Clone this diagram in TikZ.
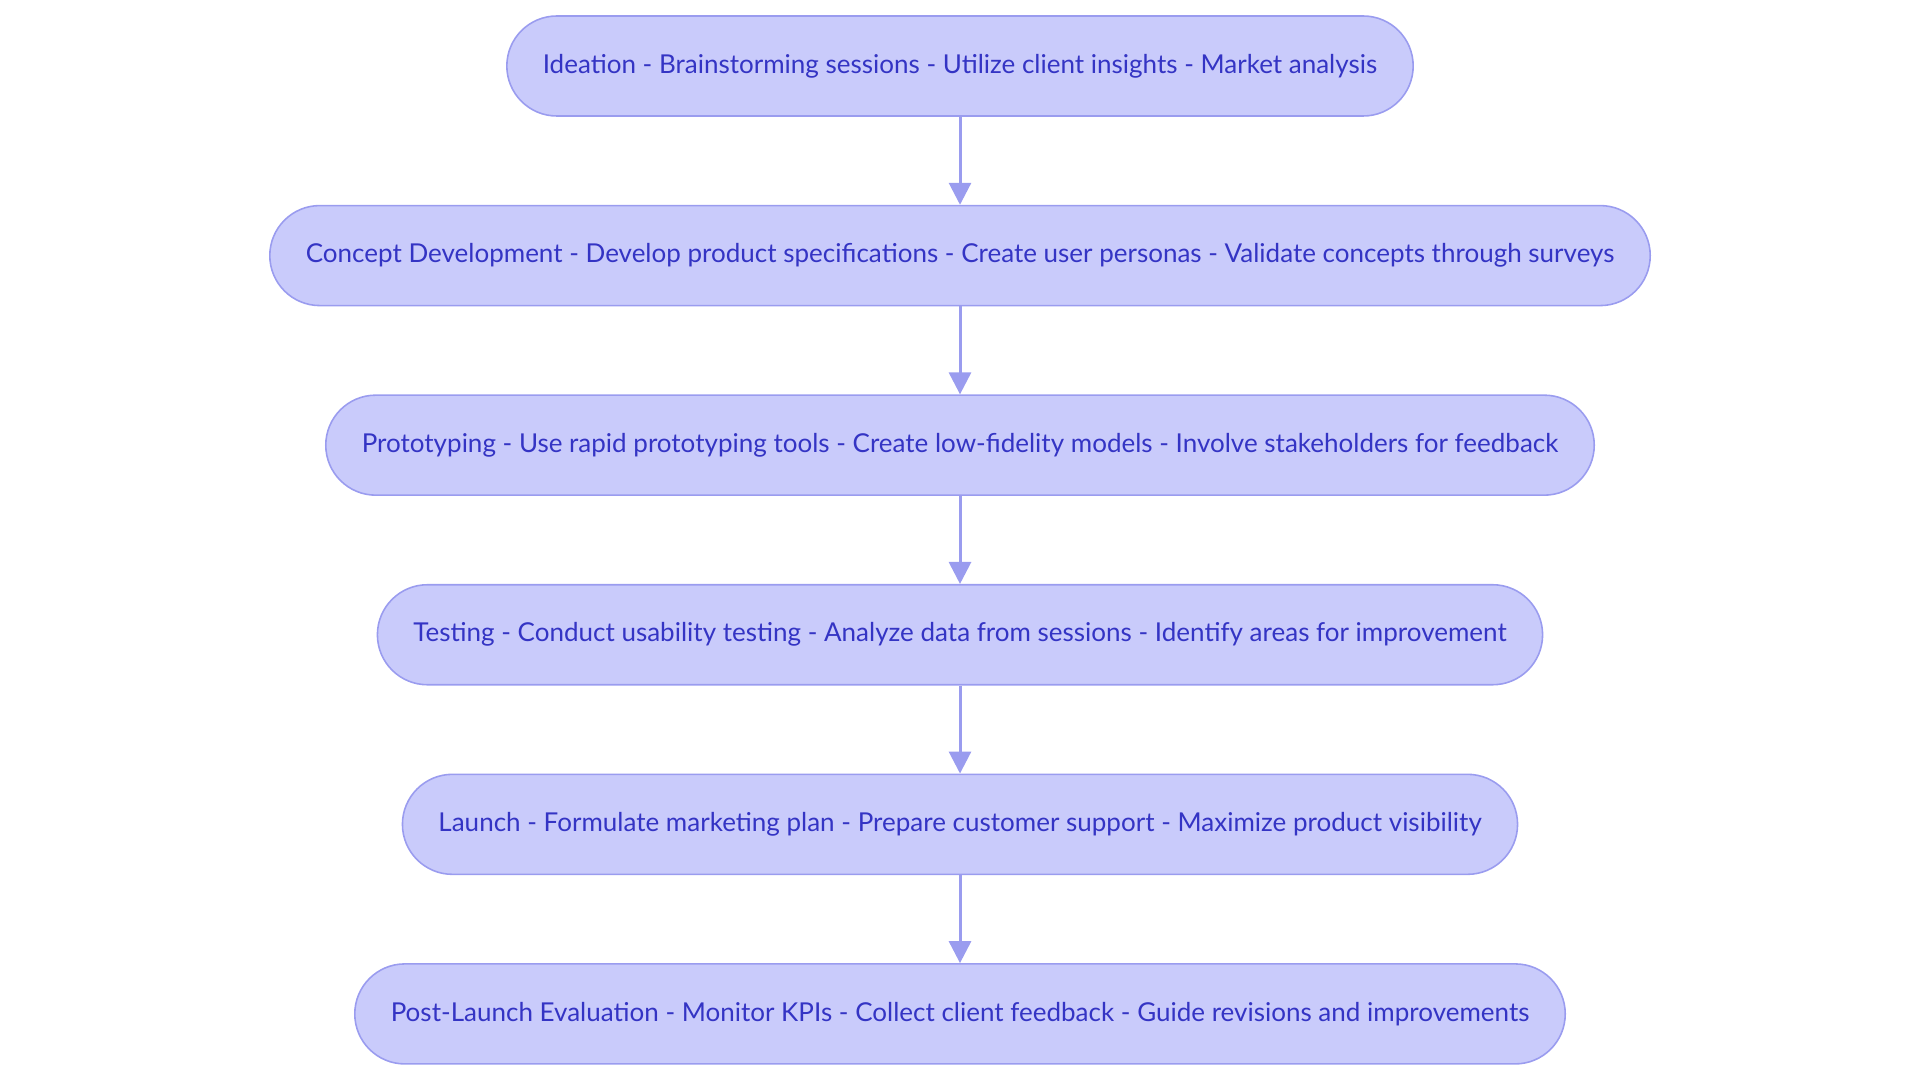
\documentclass[tikz,border=0pt]{standalone}
\usepackage{fontspec}
\setmainfont{Lato}
\usepackage{tikz}
\usetikzlibrary{shapes, arrows.meta, positioning}
\definecolor{stepfill}{HTML}{C9CBFB}
\definecolor{stepdraw}{HTML}{9A9CEF}
\definecolor{steptext}{HTML}{3434C4}
\tikzstyle{stage} = [rectangle, draw=stepdraw, line width=0.9pt, fill=stepfill, rounded corners=1cm, text=steptext, font=\fontsize{14.8}{18}\selectfont, text centered, minimum height=2cm, inner xsep=0.72cm]
\tikzstyle{line} = [draw=stepdraw, line width=1.7pt, -{Triangle[length=0.44cm, width=0.44cm]}]

\begin{document}
\begin{tikzpicture}[node distance=1.76cm, auto]
    \useasboundingbox (0,0) rectangle (38.4,-21.66);
    \node[stage] at (19.2,-1.32) (ideation){Ideation - Brainstorming sessions - Utilize client insights - Market analysis};
    \node[stage, below=of ideation](concept){Concept Development - Develop product specifications - Create user personas - Validate concepts through surveys};
    \node[stage, below=of concept](proto){Prototyping - Use rapid prototyping tools - Create low-fidelity models - Involve stakeholders for feedback};
    \node[stage, below=of proto](testing){Testing - Conduct usability testing - Analyze data from sessions - Identify areas for improvement};
    \node[stage, below=of testing](launch){Launch - Formulate marketing plan - Prepare customer support - Maximize product visibility};
    \node[stage, below=of launch](post){Post-Launch Evaluation - Monitor KPIs - Collect client feedback - Guide revisions and improvements};

    \path[line] (ideation) -- (concept);
    \path[line] (concept)  -- (proto);
    \path[line] (proto)    -- (testing);
    \path[line] (testing)  -- (launch);
    \path[line] (launch)   -- (post);
\end{tikzpicture}
\end{document}
